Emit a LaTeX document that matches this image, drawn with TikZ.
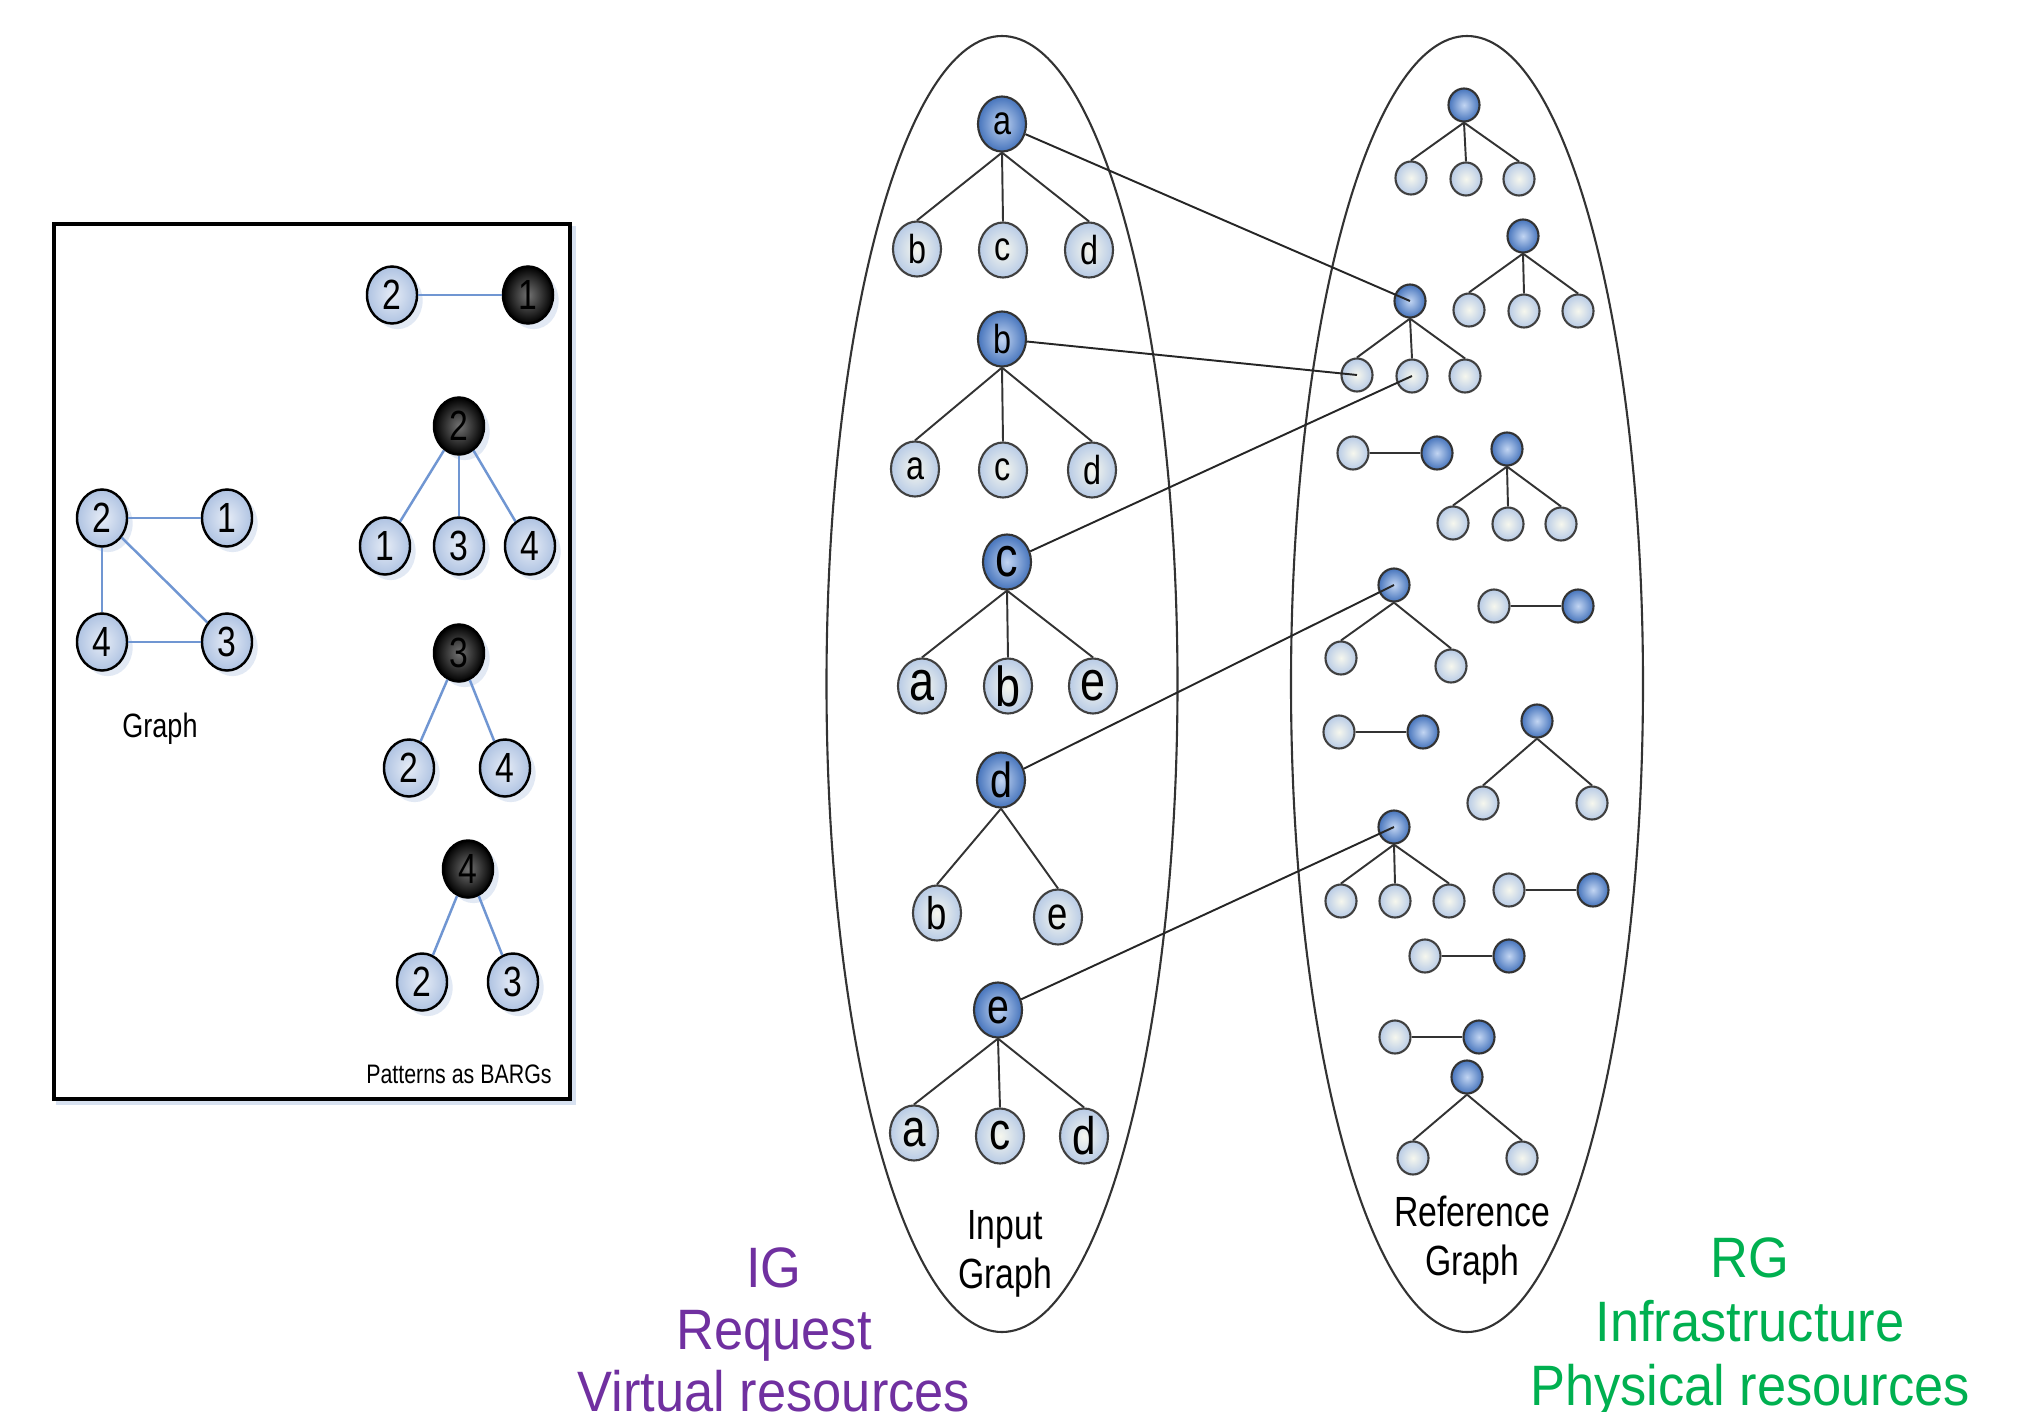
\documentclass[tikz,border=0pt]{standalone}
\usepackage{fontspec}
\setmainfont{Liberation Sans}
\usepackage{graphicx}
\usetikzlibrary{shapes.geometric,shadows}

\definecolor{igpurple}{HTML}{7030A0}
\definecolor{rggreen}{HTML}{00B050}
\definecolor{edgeblue}{HTML}{7096D2}
\definecolor{lightin}{HTML}{F6F7EE}
\definecolor{lightout}{HTML}{B8CBE6}
\definecolor{darkin}{HTML}{C2D5F2}
\definecolor{darkout}{HTML}{4674BC}
\definecolor{boxin}{HTML}{E6ECF6}
\definecolor{boxout}{HTML}{AFC3E2}

% narrow lettering used throughout the drawing
\newcommand{\nar}[1]{\scalebox{0.8}[1]{#1}}
\newcommand{\wid}[1]{\scalebox{0.92}[1]{#1}}

\begin{document}
\begin{tikzpicture}[x=0.01cm,y=-0.01cm,
  % vertices of the input graph
  lightnode/.style={ellipse, draw=black!75, line width=0.6pt, inner sep=-8pt,
    minimum width=4.8mm, minimum height=5.5mm, inner color=lightin, outer color=lightout},
  darknode/.style={ellipse, draw=black!80, line width=0.6pt, inner sep=-8pt,
    minimum width=4.8mm, minimum height=5.5mm, inner color=darkin, outer color=darkout},
  % small vertices of the reference graph
  rlight/.style={lightnode, minimum width=3.1mm, minimum height=3.3mm},
  rdark/.style={darknode, minimum width=3.1mm, minimum height=3.3mm},
  % vertices inside the pattern box
  boxnode/.style={ellipse, draw=black, line width=0.7pt, inner sep=-8pt,
    minimum width=5.0mm, minimum height=5.7mm, inner color=boxin, outer color=boxout,
    drop shadow={shadow xshift=1.6pt, shadow yshift=-1.6pt, fill=boxout!60, opacity=0.6},
    font=\fontsize{12}{14}\selectfont},
  blacknode/.style={boxnode, inner color=black!55, outer color=black},
  tedge/.style={draw=black!80, line width=0.55pt},
  bedge/.style={draw=edgeblue, line width=0.7pt},
  link/.style={draw=black!85, line width=0.55pt},
  hull/.style={draw=black!80, line width=0.6pt},
  caption/.style={font=\fontsize{12}{14}\selectfont, align=center},
  fs115/.style={font=\fontsize{11.5}{13}\selectfont},
  fs13/.style={font=\fontsize{13}{15}\selectfont},
  fs14/.style={font=\fontsize{14}{16}\selectfont},
  fs15/.style={font=\fontsize{15}{17}\selectfont},
  fs16/.style={font=\fontsize{16}{18}\selectfont},
  biglabel/.style={font=\fontsize{16.2}{18}\selectfont, anchor=base},
]
\useasboundingbox (0,0) rectangle (2029,1412);
\clip (0,0) rectangle (2029,1412);

% ---------- pattern box ----------
\draw[draw=boxout!50, line width=1.2pt] (58,228) rectangle (574,1103);
\draw[draw=black, line width=1pt, fill=white] (54,224) rectangle (570,1099);

\node[boxnode] (g2) at (102,518) {\nar{2}};
\node[boxnode] (g1) at (227,518) {\nar{1}};
\node[boxnode] (g4) at (102,642) {\nar{4}};
\node[boxnode] (g3) at (227,642) {\nar{3}};
\draw[bedge] (g2.east) -- (g1.west);
\draw[bedge] (g2.south) -- (g4.north);
\draw[bedge] (g2) -- (g3);
\draw[bedge] (g4.east) -- (g3.west);
\node[font=\fontsize{9.6}{11}\selectfont] (graphlbl) at (160,729) {\nar{Graph}};

\node[boxnode] (p1a) at (392,295) {\nar{2}};
\node[blacknode] (p1b) at (528,295) {\nar{1}};
\draw[bedge] (p1a.east) -- (p1b.west);

\node[blacknode] (p2r) at (459,426) {\nar{2}};
\node[boxnode] (p2a) at (385,546) {\nar{1}};
\node[boxnode] (p2b) at (459,546) {\nar{3}};
\node[boxnode] (p2c) at (530,546) {\nar{4}};
\draw[bedge] (p2r) -- (p2a);
\draw[bedge] (p2r.south) -- (p2b.north);
\draw[bedge] (p2r) -- (p2c);

\node[blacknode] (p3r) at (459,653) {\nar{3}};
\node[boxnode] (p3a) at (409,768) {\nar{2}};
\node[boxnode] (p3b) at (505,768) {\nar{4}};
\draw[bedge] (p3r) -- (p3a);
\draw[bedge] (p3r) -- (p3b);

\node[blacknode] (p4r) at (468,869) {\nar{4}};
\node[boxnode] (p4a) at (422,982) {\nar{2}};
\node[boxnode] (p4b) at (513,982) {\nar{3}};
\draw[bedge] (p4r) -- (p4a);
\draw[bedge] (p4r) -- (p4b);

\node[font=\fontsize{7.6}{9}\selectfont] (patlbl) at (459,1074) {\nar{Patterns as BARGs}};

% ---------- the two graph hulls ----------
\draw[hull] (1002,684) ellipse [x radius=175.5, y radius=648];
\draw[hull] (1467,684) ellipse [x radius=176, y radius=648];

% ---------- input graph ----------
\node[darknode, fs115] (ia) at (1002,124) {\nar{a}};
\node[lightnode, fs115] (iab) at (917,249) {\nar{b}};
\node[lightnode, fs115] (iac) at (1003,250) {\nar{c}};
\node[lightnode, fs115] (iad) at (1089,250) {\nar{d}};
\foreach \c in {iab,iac,iad} \draw[tedge] (ia.south) -- (\c.north);

\node[darknode, fs115] (ib) at (1002,339) {\nar{b}};
\node[lightnode, fs115] (iba) at (915,469) {\nar{a}};
\node[lightnode, fs115] (ibc) at (1003,470) {\nar{c}};
\node[lightnode, fs115] (ibd) at (1092,470) {\nar{d}};
\foreach \c in {iba,ibc,ibd} \draw[tedge] (ib.south) -- (\c.north);

\node[darknode, fs16] (ic) at (1007,562) {\nar{c}};
\node[lightnode, fs16] (ica) at (922,686) {\nar{a}};
\node[lightnode, fs16] (icb) at (1008,686) {\nar{b}};
\node[lightnode, fs16] (ice) at (1093,686) {\nar{e}};
\foreach \c in {ica,icb,ice} \draw[tedge] (ic.south) -- (\c.north);

\node[darknode, fs14] (id) at (1001,780) {\nar{d}};
\node[lightnode, fs13] (idb) at (937,913) {\nar{b}};
\node[lightnode, fs13] (ide) at (1058,917) {\nar{e}};
\foreach \c in {idb,ide} \draw[tedge] (id.south) -- (\c.north);

\node[darknode, fs14] (ie) at (998,1010) {\nar{e}};
\node[lightnode, fs15] (iea) at (914,1133) {\nar{a}};
\node[lightnode, fs15] (iec) at (1000,1136) {\nar{c}};
\node[lightnode, fs15] (ied) at (1084,1136) {\nar{d}};
\foreach \c in {iea,iec,ied} \draw[tedge] (ie.south) -- (\c.north);

\node[caption] (iglbl) at (1005,1254) {\nar{Input}\\\nar{Graph}};

% ---------- reference graph ----------
\node[rdark] (t1r) at (1464,105) {};
\node[rlight] (t1a) at (1411,178) {};
\node[rlight] (t1b) at (1466,179) {};
\node[rlight] (t1c) at (1519,179) {};
\foreach \c in {t1a,t1b,t1c} \draw[tedge] (t1r.south) -- (\c.north);

\node[rdark] (t2r) at (1523,236) {};
\node[rlight] (t2a) at (1469,310) {};
\node[rlight] (t2b) at (1524,311) {};
\node[rlight] (t2c) at (1578,311) {};
\foreach \c in {t2a,t2b,t2c} \draw[tedge] (t2r.south) -- (\c.north);

\node[rdark] (t3r) at (1410,301) {};
\node[rlight] (t3a) at (1357,375) {};
\node[rlight] (t3b) at (1412,376) {};
\node[rlight] (t3c) at (1465,376) {};
\foreach \c in {t3a,t3b,t3c} \draw[tedge] (t3r.south) -- (\c.north);

\node[rlight] (q1a) at (1353,453) {};
\node[rdark] (q1b) at (1437,453) {};
\draw[tedge] (q1a.east) -- (q1b.west);

\node[rdark] (t4r) at (1507,449) {};
\node[rlight] (t4a) at (1453,523) {};
\node[rlight] (t4b) at (1508,524) {};
\node[rlight] (t4c) at (1561,524) {};
\foreach \c in {t4a,t4b,t4c} \draw[tedge] (t4r.south) -- (\c.north);

\node[rdark] (t5r) at (1394,585) {};
\node[rlight] (t5a) at (1341,658) {};
\node[rlight] (t5b) at (1451,666) {};
\foreach \c in {t5a,t5b} \draw[tedge] (t5r.south) -- (\c.north);

\node[rlight] (q2a) at (1494,606) {};
\node[rdark] (q2b) at (1578,606) {};
\draw[tedge] (q2a.east) -- (q2b.west);

\node[rlight] (q3a) at (1339,732) {};
\node[rdark] (q3b) at (1423,732) {};
\draw[tedge] (q3a.east) -- (q3b.west);

\node[rdark] (t6r) at (1537,721) {};
\node[rlight] (t6a) at (1483,803) {};
\node[rlight] (t6b) at (1592,803) {};
\foreach \c in {t6a,t6b} \draw[tedge] (t6r.south) -- (\c.north);

\node[rdark] (t7r) at (1394,827) {};
\node[rlight] (t7a) at (1341,901) {};
\node[rlight] (t7b) at (1395,901) {};
\node[rlight] (t7c) at (1449,901) {};
\foreach \c in {t7a,t7b,t7c} \draw[tedge] (t7r.south) -- (\c.north);

\node[rlight] (q4a) at (1509,890) {};
\node[rdark] (q4b) at (1593,890) {};
\draw[tedge] (q4a.east) -- (q4b.west);

\node[rlight] (q5a) at (1425,956) {};
\node[rdark] (q5b) at (1509,956) {};
\draw[tedge] (q5a.east) -- (q5b.west);

\node[rlight] (q6a) at (1395,1037) {};
\node[rdark] (q6b) at (1479,1037) {};
\draw[tedge] (q6a.east) -- (q6b.west);

\node[rdark] (t8r) at (1467,1077) {};
\node[rlight] (t8a) at (1413,1158) {};
\node[rlight] (t8b) at (1522,1158) {};
\foreach \c in {t8a,t8b} \draw[tedge] (t8r.south) -- (\c.north);

\node[caption] (rglbl) at (1472,1240) {\nar{Reference}\\\nar{Graph}};

% ---------- mappings from input to reference graph ----------
\draw[link] (ia) -- (t3r.center);
\draw[link] (ib) -- (t3a.center);
\draw[link] (ic) -- (t3b.center);
\draw[link] (id) -- (t5r.center);
\draw[link] (ie) -- (t7r.center);

% ---------- side captions ----------
\node[biglabel, text=igpurple] (ig1) at (774,1287) {\wid{IG}};
\node[biglabel, text=igpurple] (ig2) at (774,1349) {\wid{Request}};
\node[biglabel, text=igpurple] (ig3) at (774,1411) {\wid{Virtual resources}};
\node[biglabel, text=rggreen] (rg1) at (1750,1277) {\wid{RG}};
\node[biglabel, text=rggreen] (rg2) at (1750,1341) {\wid{Infrastructure}};
\node[biglabel, text=rggreen] (rg3) at (1750,1405) {\wid{Physical resources}};
\end{tikzpicture}
\end{document}
